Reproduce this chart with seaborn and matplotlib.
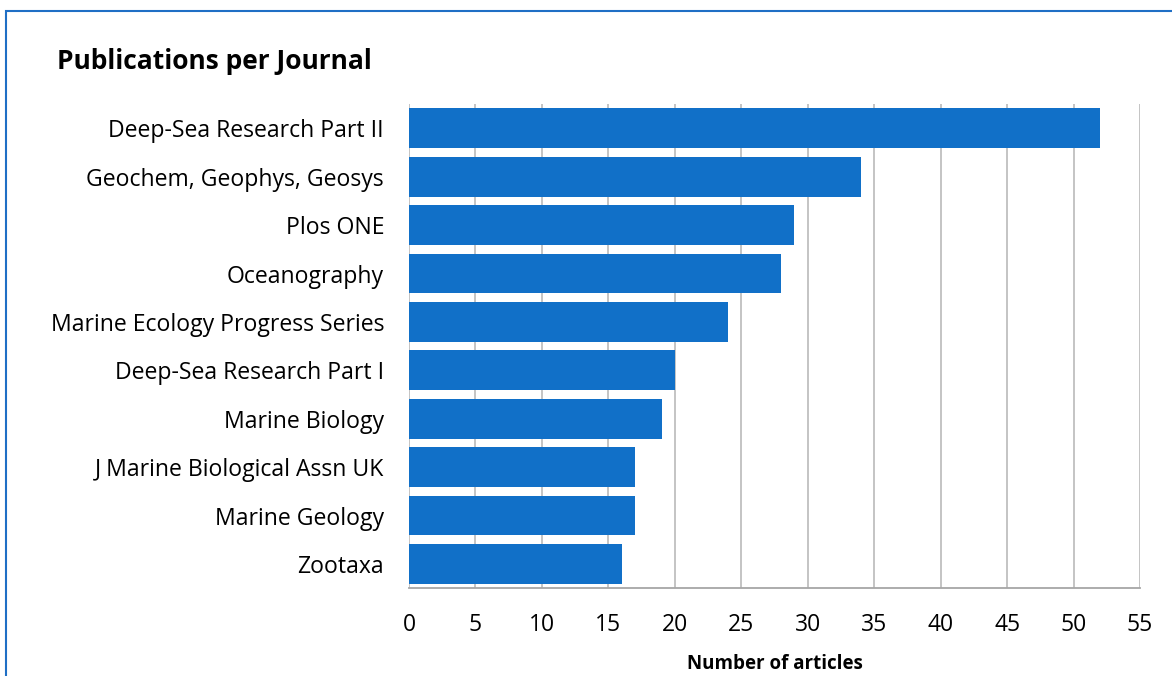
import matplotlib
matplotlib.use("Agg")
import matplotlib.pyplot as plt
import seaborn as sns
import pandas as pd
from matplotlib.patches import Rectangle

# data
journals = [
    "Deep-Sea Research Part II",
    "Geochem, Geophys, Geosys",
    "Plos ONE",
    "Oceanography",
    "Marine Ecology Progress Series",
    "Deep-Sea Research Part I",
    "Marine Biology",
    "J Marine Biological Assn UK",
    "Marine Geology",
    "Zootaxa",
]
articles = [52, 34, 29, 28, 24, 20, 19, 17, 17, 16]
x_ticks = list(range(0, 60, 5))

df = pd.DataFrame({"journal": journals, "articles": articles})

sns.set_style("white")
plt.rcParams["font.family"] = ["Open Sans", "DejaVu Sans"]
plt.rcParams["text.color"] = "black"
plt.rcParams["xtick.labelcolor"] = "black"
plt.rcParams["ytick.labelcolor"] = "black"
plt.rcParams["axes.labelcolor"] = "black"

fig = plt.figure(figsize=(11.72, 6.76), dpi=100)
ax = fig.add_axes([0.349, 0.130, 0.6237, 0.716])

sns.barplot(data=df, x="articles", y="journal", orient="h",
            color="#1170C8", saturation=1, width=0.82, linewidth=0,
            ax=ax, zorder=3)

ax.set_xlim(0, 55)
ax.set_xticks(x_ticks)
ax.xaxis.grid(True, color="#BFBFBF", linewidth=1.3, zorder=0)
ax.set_axisbelow(True)

for s in ["top", "right", "left"]:
    ax.spines[s].set_visible(False)
ax.spines["bottom"].set_color("#A6A6A6")
ax.spines["bottom"].set_linewidth(1.3)

ax.tick_params(axis="x", direction="out", length=7, width=1.3,
               color="#A6A6A6", labelsize=16.5, pad=11)
ax.tick_params(axis="y", length=0, labelsize=16.6, pad=18)

ax.set_ylabel("")
ax.set_xlabel("Number of articles", fontsize=13.5, fontweight="bold", labelpad=12)

fig.text(0.049, 0.909, "Publications per Journal", fontsize=19,
         fontweight="bold", va="center", ha="left")

# chart frame like the original export (left/top edges visible)
fig.patches.append(Rectangle((0.005, -0.05), 1.2, 1.033, transform=fig.transFigure,
                             fill=False, edgecolor="#1F6FC5", linewidth=1.5))

fig.savefig("out.png", dpi=100)
